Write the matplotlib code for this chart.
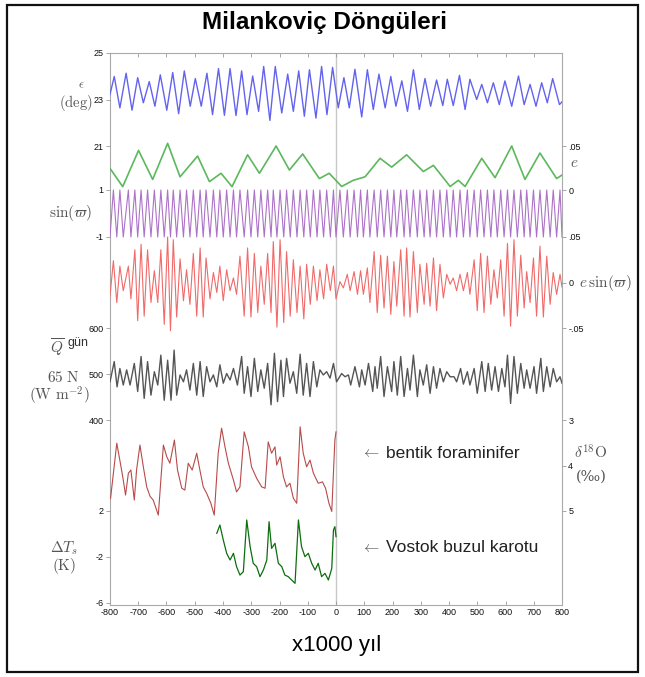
import matplotlib
matplotlib.use("Agg")
import matplotlib.pyplot as plt
import numpy as np
from matplotlib.patches import Rectangle

plt.rcParams['mathtext.fontset'] = 'cm'
plt.rcParams['font.family'] = ['Liberation Sans', 'DejaVu Sans']
plt.rcParams['axes.unicode_minus'] = False

# ---- data (time in kyr, negative = past) ----
obl_t = [-800, -785, -765, -743, -722, -702, -682, -661, -641, -622, -599, -578, -557,
         -537, -516, -498, -477, -457, -437, -416, -395, -375, -354, -334, -315, -295,
         -274, -256, -234, -215, -192, -171, -151, -132, -112, -94, -71, -51, -32, -12,
         8, 28, 47, 67, 91, 111, 132, 152, 174, 194, 212, 233, 253, 274, 295, 315, 335,
         356, 378, 394, 415, 437, 457, 474, 498, 516, 536, 557, 578, 598, 622, 646, 666,
         687, 708, 728, 748, 767, 791, 800]
obl_v = [23.22, 23.99, 22.64, 24.13, 22.54, 23.94, 22.86, 23.77, 22.71, 24.06, 22.54, 24.16,
         22.39, 24.23, 22.71, 23.90, 22.71, 24.13, 22.35, 24.33, 22.32, 24.33, 22.31, 24.23,
         22.35, 24.01, 22.49, 24.42, 22.10, 24.42, 22.42, 24.09, 22.49, 24.23, 22.28, 24.28,
         22.20, 24.42, 22.35, 24.38, 22.64, 23.94, 22.64, 24.30, 22.25, 24.28, 22.57, 24.09,
         22.64, 23.99, 22.71, 23.80, 22.49, 24.28, 22.57, 23.90, 22.71, 23.84, 22.74, 23.87,
         22.74, 24.04, 22.57, 23.87, 23.00, 23.65, 22.86, 23.72, 22.78, 23.80, 22.71, 24.01,
         22.78, 23.65, 22.71, 23.72, 22.86, 23.90, 22.78, 22.90]

ecc_t = [-800, -755, -699, -649, -596, -552, -490, -448, -407, -368, -313, -271, -212,
         -165, -118, -59, -24, 20, 61, 103, 156, 197, 250, 309, 345, 404, 433, 457, 516,
         563, 622, 669, 722, 781, 800]
ecc_v = [0.0246, 0.0038, 0.045, 0.012, 0.053, 0.015, 0.0386, 0.0095, 0.019, 0.0038, 0.040,
         0.019, 0.050, 0.0227, 0.041, 0.013, 0.019, 0.004, 0.011, 0.015, 0.036, 0.026, 0.040,
         0.021, 0.028, 0.004, 0.011, 0.004, 0.036, 0.014, 0.050, 0.012, 0.042, 0.013, 0.017]

prec_t = [-800, -788, -776, -765, -753, -735, -726, -712, -702, -690, -679, -667, -655,
          -643, -631, -620, -608, -596, -586, -576, -564, -552, -540, -529, -517, -505,
          -493, -481, -470, -460, -446, -434, -422, -411, -399, -387, -375, -363, -352,
          -340, -325, -313, -301, -289, -277, -266, -254, -242, -230, -222, -209, -198,
          -185, -175, -162, -151, -138, -127, -114, -104, -91, -80, -67, -57, -44, -33,
          -20, -9, 0, 14, 26, 40, 50, 64, 76, 87, 97, 111, 120, 135, 146, 158, 170, 182,
          194, 205, 215, 229, 241, 250, 262, 274, 288, 297, 312, 321, 333, 345, 356, 368,
          380, 392, 404, 415, 427, 439, 451, 465, 474, 489, 500, 512, 524, 536, 548, 559,
          571, 583, 595, 607, 618, 630, 642, 654, 666, 675, 687, 699, 710, 722, 734, 746,
          758, 769, 781, 793, 800]
esin_v = [-0.015, 0.024, -0.022, 0.018, -0.009, 0.018, -0.018, 0.036, -0.042, 0.042, -0.037,
          0.036, -0.022, 0.013, -0.022, 0.036, -0.046, 0.050, -0.053, 0.047, -0.038, 0.026,
          -0.020, 0.014, -0.024, 0.032, -0.037, 0.038, -0.038, 0.027, -0.018, 0.011, -0.011,
          0.018, -0.020, 0.014, -0.009, 0.005, -0.013, 0.029, -0.037, 0.038, -0.038, 0.032,
          -0.033, 0.018, -0.024, 0.032, -0.033, 0.045, -0.049, 0.047, -0.044, 0.034, -0.037,
          0.025, -0.033, 0.018, -0.040, 0.020, -0.024, 0.018, -0.020, 0.014, -0.018, 0.020,
          -0.009, 0.018, -0.018, 0.001, -0.006, 0.009, -0.009, 0.012, -0.013, 0.013, -0.013,
          0.016, -0.022, 0.034, -0.033, 0.030, -0.028, 0.029, -0.035, 0.023, -0.026, 0.036,
          -0.037, 0.038, -0.038, 0.034, -0.033, 0.020, -0.024, 0.021, -0.026, 0.027, -0.031,
          0.020, -0.017, 0.009, -0.002, 0.005, -0.009, 0.009, -0.009, 0.011, -0.013, 0.025,
          -0.031, 0.032, -0.033, 0.029, -0.024, 0.014, -0.017, 0.025, -0.037, 0.043, -0.048,
          0.047, -0.037, 0.030, -0.028, 0.012, -0.022, 0.027, -0.037, 0.040, -0.038, 0.029,
          -0.024, 0.011, -0.013, 0.009, -0.005]
sin_v = np.sign(esin_v)

q_t = [-800, -785, -775, -765, -753, -741, -729, -714, -702, -690, -679, -667, -655, -643,
       -631, -620, -608, -596, -584, -573, -564, -552, -540, -529, -517, -505, -493, -481,
       -470, -458, -446, -434, -422, -411, -399, -387, -375, -363, -349, -334, -325, -313,
       -301, -289, -277, -266, -254, -242, -230, -218, -207, -195, -186, -175, -163, -151,
       -139, -127, -116, -104, -92, -80, -68, -57, -45, -33, -21, -9, 2, 20, 32, 44, 52, 67,
       83, 91, 103, 115, 130, 138, 146, 158, 170, 182, 197, 205, 217, 229, 241, 253, 262,
       274, 288, 297, 309, 321, 333, 345, 356, 368, 380, 392, 404, 418, 427, 441, 451, 465,
       474, 489, 500, 516, 528, 539, 551, 563, 575, 587, 598, 607, 618, 630, 642, 654, 666,
       675, 687, 701, 710, 725, 734, 746, 758, 769, 781, 793, 800]
q_v = [483, 527, 472, 512, 476, 509, 476, 523, 462, 538, 447, 527, 454, 505, 476, 541, 443,
       530, 443, 552, 454, 498, 483, 509, 465, 523, 454, 527, 451, 516, 483, 498, 472, 520,
       480, 501, 487, 512, 476, 538, 458, 516, 451, 534, 462, 509, 469, 523, 433, 545, 440,
       530, 451, 534, 480, 505, 458, 543, 454, 523, 451, 527, 472, 509, 498, 505, 491, 523,
       483, 501, 494, 498, 476, 516, 472, 509, 476, 523, 462, 516, 469, 538, 451, 516, 462,
       527, 454, 538, 451, 512, 465, 541, 451, 509, 476, 520, 458, 516, 469, 512, 483, 505,
       494, 494, 483, 512, 478, 505, 476, 512, 458, 527, 462, 523, 465, 516, 462, 512, 472,
       541, 436, 538, 458, 523, 469, 509, 469, 516, 458, 534, 462, 516, 472, 512, 483, 494,
       480]

d18o_t = [-798, -776, -761, -753, -745, -735, -726, -714, -706, -694, -682, -670, -658,
          -647, -629, -611, -599, -588, -572, -561, -546, -535, -523, -509, -493, -484,
          -470, -458, -443, -431, -417, -405, -393, -381, -363, -352, -340, -325, -310,
          -299, -281, -263, -251, -240, -228, -216, -210, -198, -186, -175, -163, -151,
          -139, -127, -116, -104, -92, -80, -63, -48, -37, -25, -15, -4, 0]
d18o_v = [4.72, 3.51, 4.03, 4.32, 4.65, 4.17, 4.10, 4.76, 4.10, 3.55, 4.03, 4.47, 4.68,
          4.76, 5.09, 3.55, 3.81, 3.95, 3.44, 4.10, 4.50, 4.54, 3.95, 4.10, 3.73, 4.03,
          4.47, 4.61, 4.83, 5.09, 3.73, 3.18, 3.59, 3.95, 4.32, 4.58, 4.47, 3.26, 3.59,
          4.03, 4.28, 4.47, 4.50, 3.48, 3.73, 3.59, 3.99, 3.81, 4.25, 4.47, 4.39, 4.72,
          4.83, 3.15, 3.73, 4.03, 3.88, 4.17, 4.39, 4.36, 4.50, 4.83, 5.01, 3.44, 3.26]

vos_t = [-422, -411, -399, -387, -375, -363, -352, -340, -328, -316, -304, -293, -281,
         -269, -257, -245, -237, -228, -216, -204, -192, -181, -169, -157, -145, -133,
         -122, -110, -98, -86, -74, -63, -51, -39, -27, -15, -9, -4, 0]
vos_v = [0.06, 0.78, -0.52, -1.68, -2.26, -1.68, -2.84, -3.57, -3.28, 1.22, -1.10, -2.55,
         -2.84, -3.71, -3.13, -2.26, 1.07, -1.25, -0.81, -2.55, -2.84, -3.57, -3.71, -4.0,
         -4.29, 1.22, -1.10, -1.97, -1.68, -2.55, -3.13, -2.55, -3.71, -3.42, -4.0, -2.99,
         0.35, 0.64, -0.23]

# ---- layout (pixels of a 645x677 canvas) ----
W, H = 645, 677
L, R, T, B = 110, 562, 53, 605


def fx(x):
    return x / W


def fy(y):
    return 1 - y / H


def band(v1, p1, v2, p2):
    s = (p2 - p1) / (v2 - v1)
    return (v1 + (B - p1) / s, v1 + (T - p1) / s)


fig = plt.figure(figsize=(W / 100, H / 100), dpi=100)
rect = [fx(L), fy(B), fx(R - L), (B - T) / H]

ax = fig.add_axes(rect)
ax.set_xlim(-800, 800)
ax.set_ylim(0, 1)
ax.set_yticks([])
ax.set_xticks(range(-800, 801, 100))
ax.tick_params(axis='x', direction='in', top=True, length=3, width=0.6,
               labelsize=6.5, pad=2, labelcolor='#111111', color='#999999')
for sp in ax.spines.values():
    sp.set_color('#aaaaaa')
    sp.set_linewidth(0.8)
ax.axvline(0, color='#c8c8c8', lw=1.0, zorder=0)


def series(x, y, color, lw, ylim, side=None, ticks=None, labels=None):
    a = fig.add_axes(rect, sharex=ax)
    a.set_facecolor('none')
    for sp in a.spines.values():
        sp.set_visible(False)
    a.tick_params(axis='x', bottom=False, labelbottom=False, top=False)
    a.set_ylim(*ylim)
    a.plot(x, y, color=color, lw=lw)
    if side is None:
        a.set_yticks([])
    else:
        a.yaxis.set_ticks_position(side)
        a.set_yticks(ticks, labels)
        a.tick_params(axis='y', direction='out', length=3, width=0.6, color='#999999',
                      labelsize=6.5, pad=1.5, labelcolor='#111111')
    return a


series(obl_t, obl_v, '#6363ee', 1.0, band(25, 53, 21, 146), 'left',
       [25, 23, 21], ['25', '23', '21'])
series(ecc_t, ecc_v, '#5cb85c', 1.2, band(0.05, 146, 0, 190), 'right',
       [0.05, 0], ['.05', '0'])
series(prec_t, sin_v, '#ad72c8', 0.8, band(1, 190, -1, 237), 'left',
       [1, -1], ['1', '-1'])
series(prec_t, esin_v, '#f06a6a', 0.8, band(0.05, 237, -0.05, 328), 'right',
       [0.05, 0, -0.05], ['.05', '0', '-.05'])
series(q_t, q_v, '#555555', 1.0, band(600, 328, 400, 420), 'left',
       [600, 500, 400], ['600', '500', '400'])
series(d18o_t, d18o_v, '#b84a4a', 0.8, band(3, 420, 5, 511), 'right',
       [3, 4, 5], ['3', '4', '5'])
series(vos_t, vos_v, '#0d6e0d', 0.9, band(2, 511, -2, 557), 'left',
       [2, -2, -6], ['2', '-2', '-6'])

# ---- texts ----
lab_c = '#555555'
fig.text(fx(325), fy(22), 'Milankoviç Döngüleri', ha='center', va='center',
         fontsize=17.5, fontweight='bold')
fig.text(fx(337), fy(645), 'x1000 yıl', ha='center', va='center', fontsize=16)

fig.text(fx(81), fy(85), r'$\epsilon$', ha='center', va='center', fontsize=9, color=lab_c)
fig.text(fx(76), fy(103), r'$\mathrm{(deg)}$', ha='center', va='center', fontsize=10.5, color=lab_c)
fig.text(fx(71), fy(213), r'$\sin(\varpi)$', ha='center', va='center', fontsize=11, color=lab_c)
fig.text(fx(57), fy(348), r'$\overline{Q}$', ha='center', va='center', fontsize=11, color=lab_c)
fig.text(fx(67), fy(343), 'gün', ha='left', va='center', fontsize=9, color='#333333')
fig.text(fx(63), fy(377), r'$\mathrm{65\ N}$', ha='center', va='center', fontsize=11, color=lab_c)
fig.text(fx(59), fy(396), r'$\mathrm{(W\ m^{-2})}$', ha='center', va='center', fontsize=11, color=lab_c)
fig.text(fx(64), fy(548), r'$\Delta T_s$', ha='center', va='center', fontsize=11, color=lab_c)
fig.text(fx(64), fy(566), r'$\mathrm{(K)}$', ha='center', va='center', fontsize=11, color=lab_c)

fig.text(fx(574), fy(163), r'$e$', ha='center', va='center', fontsize=11, color=lab_c)
fig.text(fx(605), fy(283), r'$e\,\sin(\varpi)$', ha='center', va='center', fontsize=11, color=lab_c)
fig.text(fx(591), fy(453), r'$\delta^{18}\mathrm{O}$', ha='center', va='center', fontsize=11, color=lab_c)
fig.text(fx(591), fy(477), '(‰)', ha='center', va='center', fontsize=10.5, color=lab_c,
         family=['DejaVu Serif'])

fig.text(fx(371), fy(453), r'$\leftarrow$', ha='center', va='center', fontsize=11, color=lab_c)
fig.text(fx(386), fy(453), 'bentik foraminifer', ha='left', va='center', fontsize=12.5,
         color='#222222')
fig.text(fx(371), fy(548), r'$\leftarrow$', ha='center', va='center', fontsize=11, color=lab_c)
fig.text(fx(386), fy(548), 'Vostok buzul karotu', ha='left', va='center', fontsize=12.5,
         color='#222222')

fig.add_artist(Rectangle((fx(7), fy(672)), fx(631), (672 - 5) / H, transform=fig.transFigure,
                         fill=False, lw=1.6, ec='#111111'))

fig.savefig('out.png', dpi=100)
